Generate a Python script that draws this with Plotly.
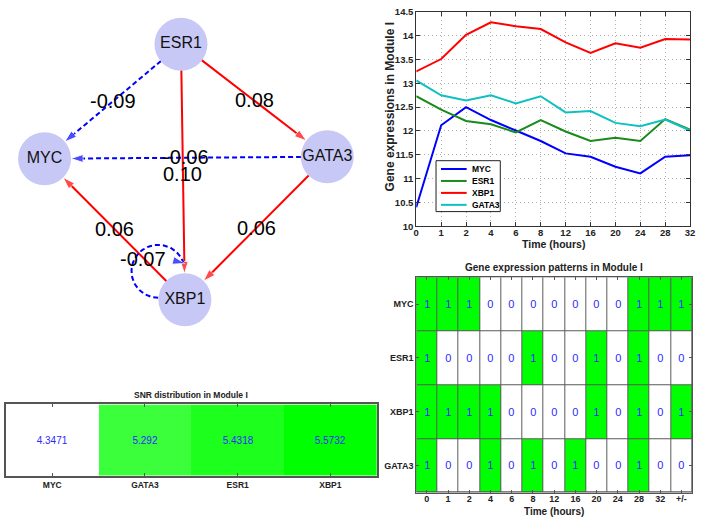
import math
import plotly.graph_objects as go

W, H = 705, 525
FONT = "Liberation Sans, Arial, sans-serif"

# ---------------- data ----------------
times = ['0', '1', '2', '4', '6', '8', '12', '16', '20', '24', '28', '32']
line_genes = ['MYC', 'ESR1', 'XBP1', 'GATA3']
myc = [10.40, 12.12, 12.50, 12.23, 12.01, 11.79, 11.53, 11.46, 11.25, 11.11, 11.46, 11.49]
esr1 = [12.73, 12.45, 12.21, 12.14, 11.97, 12.23, 11.99, 11.79, 11.86, 11.79, 12.25, 12.03]
xbp1 = [13.25, 13.51, 14.02, 14.28, 14.20, 14.14, 13.86, 13.64, 13.84, 13.75, 13.93, 13.92]
gata3 = [13.06, 12.75, 12.64, 12.75, 12.58, 12.73, 12.39, 12.42, 12.17, 12.10, 12.24, 12.01]

pattern_cols = times + ['+/-']
pattern_genes = ['MYC', 'ESR1', 'XBP1', 'GATA3']
pattern_myc = [1, 1, 1, 0, 0, 0, 0, 0, 0, 0, 1, 1, 1]
pattern_esr1 = [1, 0, 0, 0, 0, 1, 0, 0, 1, 0, 1, 0, 0]
pattern_xbp1 = [1, 1, 1, 1, 0, 0, 0, 0, 1, 0, 1, 0, 1]
pattern_gata3 = [1, 0, 0, 1, 0, 1, 0, 1, 0, 0, 1, 0, 0]

snr_genes = ['MYC', 'GATA3', 'ESR1', 'XBP1']
snr_vals = [4.3471, 5.292, 5.4318, 5.5732]

node_names = ['ESR1', 'MYC', 'GATA3', 'XBP1']
edge_src = ['ESR1', 'ESR1', 'ESR1', 'GATA3', 'GATA3', 'XBP1', 'XBP1']
edge_dst = ['MYC', 'GATA3', 'XBP1', 'MYC', 'XBP1', 'MYC', 'XBP1']
edge_w = [-0.09, 0.08, 0.10, -0.06, 0.06, 0.06, -0.07]

# ---------------- layout / style ----------------
line_colors = ['#0000ff', '#1a8a1a', '#ff0000', '#10c0c0']
node_pos = {'ESR1': (180, 39), 'MYC': (42, 156), 'GATA3': (328, 154), 'XBP1': (184, 300)}
NODE_R = 26.5
POS_COL, NEG_COL = '#ff0000', '#0000ff'
label_nudge = {('ESR1', 'XBP1'): (0, 2), ('GATA3', 'MYC'): (0, -1)}


def px(x):
    return x / W


def py(y):
    return 1 - y / H


def paper_text(x, y, text, font, angle=0, xanchor='center'):
    fig.add_annotation(x=px(x), y=py(y), xref='paper', yref='paper', text=text,
                       showarrow=False, xanchor=xanchor, yanchor='middle',
                       textangle=angle, font=font)


fig = go.Figure()

# ---- network (axes x3/y3 in pixel units) ----
for s, d, w in zip(edge_src, edge_dst, edge_w):
    col = POS_COL if w > 0 else NEG_COL
    dash = 'solid' if w > 0 else '5px,3px'
    x0, y0 = node_pos[s]
    if s != d:
        x1, y1 = node_pos[d]
        L = math.hypot(x1 - x0, y1 - y0)
        ux, uy = (x1 - x0) / L, (y1 - y0) / L
        xs = [x0 + ux * NODE_R, x1 - ux * NODE_R]
        ys = [y0 + uy * NODE_R, y1 - uy * NODE_R]
        lx, ly = (x0 + x1) / 2, (y0 + y1) / 2
    else:
        cx, cy, r = x0 - 27, y0 - 29, 27
        angs = [math.radians(a) for a in range(90, 346, 4)]
        xs = [cx + r * math.cos(a) for a in angs]
        ys = [cy + r * math.sin(a) for a in angs]
        xs.append(x0)
        ys.append(y0 - 37)
        lx, ly = cx - 15, cy - 13
    nx, ny = label_nudge.get((s, d), (0, 0))
    sizes = [0] * (len(xs) - 1) + [13]
    fig.add_trace(go.Scatter(
        x=xs, y=ys, mode='lines+markers', xaxis='x3', yaxis='y3',
        line=dict(color=col, width=2, dash=dash),
        marker=dict(symbol='arrow', size=sizes, color=col, angleref='previous'),
        showlegend=False, hoverinfo='skip'))
    fig.add_annotation(x=lx + nx, y=ly + ny, xref='x3', yref='y3', text=f"{w:.2f}",
                       showarrow=False, font=dict(size=20, color='black', family=FONT))

fig.add_trace(go.Scatter(
    x=[node_pos[n][0] for n in node_names], y=[node_pos[n][1] for n in node_names],
    mode='markers+text', text=node_names, textposition='middle center',
    textfont=dict(size=16, color='#111111', family=FONT),
    marker=dict(size=NODE_R * 2, color='#c8c8f6', line=dict(width=0)),
    xaxis='x3', yaxis='y3', showlegend=False, hoverinfo='skip'))

# ---- line chart ----
for name, vals, col in zip(line_genes, [myc, esr1, xbp1, gata3], line_colors):
    fig.add_trace(go.Scatter(x=times, y=vals, mode='lines', name=name,
                             line=dict(color=col, width=2), xaxis='x', yaxis='y',
                             showlegend=False))

bold = lambda size, color='#222': dict(size=size, weight='bold', color=color, family=FONT)

# custom legend
lg_x0, lg_x1, lg_y0, lg_y1 = 438, 503, 158, 210
fig.add_shape(type='rect', xref='paper', yref='paper', x0=px(lg_x0), x1=px(lg_x1),
              y0=py(lg_y1), y1=py(lg_y0), line=dict(color='#222', width=1), fillcolor='white')
for i, (name, col) in enumerate(zip(line_genes, line_colors)):
    yy = 166.5 + i * 12.2
    fig.add_shape(type='line', xref='paper', yref='paper', x0=px(443), x1=px(469),
                  y0=py(yy), y1=py(yy), line=dict(color=col, width=2))
    paper_text(472, yy, name, bold(8.5, 'black'), xanchor='left')

paper_text(391, 103, 'Gene expressions in Module I', bold(12), angle=-90)
paper_text(556.5, 243, 'Time (hours)', bold(10.5))

# ---- SNR heatmap ----
fig.add_trace(go.Heatmap(
    z=[snr_vals], x=snr_genes, y=[''], xaxis='x4', yaxis='y4',
    colorscale=[[0, '#ffffff'], [1, '#00ff00']], zmin=min(snr_vals), zmax=max(snr_vals),
    showscale=False, texttemplate='%{z}', textfont=dict(color='#2a2aff', size=10, family=FONT),
    hoverinfo='skip'))
paper_text(190.5, 397, 'SNR distribution in Module I', bold(8.5))

# ---- binary pattern heatmap ----
fig.add_shape(type='rect', xref='x5 domain', yref='y5 domain', x0=0, x1=1, y0=0, y1=1,
              fillcolor='#5a5a5a', line=dict(width=0), layer='below')
fig.add_trace(go.Heatmap(
    z=[pattern_myc, pattern_esr1, pattern_xbp1, pattern_gata3], x=pattern_cols, y=pattern_genes,
    xaxis='x5', yaxis='y5', colorscale=[[0, '#ffffff'], [1, '#00ff00']], zmin=0, zmax=1,
    showscale=False, xgap=1, ygap=1, texttemplate='%{z}',
    textfont=dict(color='#2a2aff', size=11, family=FONT), hoverinfo='skip'))
paper_text(557, 267, 'Gene expression patterns in Module I', bold(10))
paper_text(557.5, 516.5, 'Time (hours)', bold(10))

tickf = bold(9.5)
smallf = bold(8.5)

fig.update_layout(
    width=W, height=H, margin=dict(l=0, r=0, t=0, b=0),
    paper_bgcolor='white', plot_bgcolor='white', showlegend=False,
    font=dict(family=FONT),
    xaxis=dict(domain=[px(418), px(695)], anchor='y', type='category', range=[0, 11],
               showgrid=True, gridcolor='#b0b0b0', griddash='1px,3px', gridwidth=1,
               showline=True, linecolor='#333', linewidth=1, mirror='ticks',
               ticks='inside', ticklen=4, tickcolor='#333', tickfont=tickf,
               ticklabelstandoff=-3, zeroline=False),
    yaxis=dict(domain=[py(225), py(6)], anchor='x', range=[10, 14.5], dtick=0.5,
               showgrid=True, gridcolor='#b0b0b0', griddash='1px,3px', gridwidth=1,
               showline=True, linecolor='#333', linewidth=1, mirror='ticks',
               ticks='inside', ticklen=4, tickcolor='#333', tickfont=tickf,
               zeroline=False),
    xaxis3=dict(domain=[0, px(360)], anchor='y3', range=[0, 360], visible=False),
    yaxis3=dict(domain=[py(330), 1], anchor='x3', range=[330, 0], visible=False),
    xaxis4=dict(domain=[px(3), px(378)], anchor='y4', type='category',
                showline=True, linecolor='#555', linewidth=1.5, mirror='ticks',
                ticks='inside', ticklen=3, tickcolor='#555', tickfont=smallf, showgrid=False),
    yaxis4=dict(domain=[py(480), py(407)], anchor='x4', showticklabels=False,
                showline=True, linecolor='#555', linewidth=1.5, mirror=True, ticks='', showgrid=False),
    xaxis5=dict(domain=[px(418), px(697)], anchor='y5', type='category',
                showline=True, linecolor='#555', linewidth=1, mirror='ticks',
                ticks='inside', ticklen=3, tickcolor='#555', tickfont=bold(9),
                ticklabelstandoff=-2, showgrid=False),
    yaxis5=dict(domain=[py(497), py(277)], anchor='x5', type='category', autorange='reversed',
                showline=True, linecolor='#555', linewidth=1, mirror='ticks',
                ticks='inside', ticklen=3, tickcolor='#555', tickfont=bold(9),
                showgrid=False),
)

fig.write_html("out.html", config={'displayModeBar': False},
               post_script="document.body.style.margin='0';")
